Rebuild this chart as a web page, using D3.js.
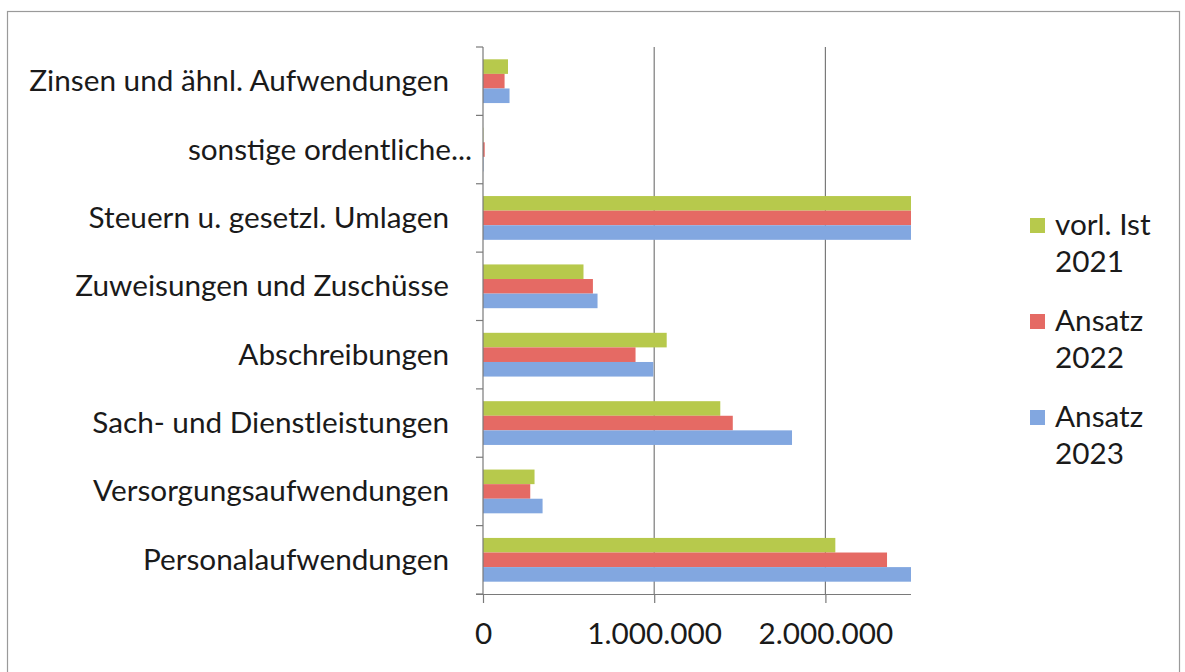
<!DOCTYPE html>
<html>
<head>
<meta charset="utf-8">
<script src="https://cdn.jsdelivr.net/npm/d3@7"></script>
<style>
  html, body { margin: 0; padding: 0; background: #ffffff; }
  svg { display: block; }
  text { font-family: Lato, "Open Sans", sans-serif; fill: #1a1a1a; }
</style>
</head>
<body>
<svg id="chart" width="1185" height="672"></svg>
<script>
const categories = [
  "Zinsen und ähnl. Aufwendungen",
  "sonstige ordentliche...",
  "Steuern u. gesetzl. Umlagen",
  "Zuweisungen und Zuschüsse",
  "Abschreibungen",
  "Sach- und Dienstleistungen",
  "Versorgungsaufwendungen",
  "Personalaufwendungen"
];
const seriesNames = ["vorl. Ist 2021", "Ansatz 2022", "Ansatz 2023"];
const legendLines = [["vorl. Ist", "2021"], ["Ansatz", "2022"], ["Ansatz", "2023"]];
const vorlIst2021 = [146000, 2000, 2500000, 587000, 1073000, 1386000, 301000, 2058000];
const ansatz2022  = [126000, 10000, 2500000, 642000, 891000, 1459000, 276000, 2360000];
const ansatz2023  = [155000, 3000, 2500000, 669000, 995000, 1805000, 348000, 2500000];
const xTicks = [0, 1000000, 2000000];
const xTickLabels = ["0", "1.000.000", "2.000.000"];
const colors = ["#b7c94c", "#e56a64", "#82a7e0"];

const svg = d3.select("#chart");
const plot = {left: 483, right: 911, top: 47, bottom: 594};

const values = [vorlIst2021, ansatz2022, ansatz2023];
const rows = categories.map((c, i) => ({cat: c, vals: values.map((v, s) => ({s, v: v[i]}))}));

const x = d3.scaleLinear().domain([0, 2500000]).range([plot.left, plot.right]);
const y0 = d3.scaleBand().domain(categories).range([plot.top, plot.bottom]).paddingInner(0.36).paddingOuter(0.18);
const y1 = d3.scaleBand().domain([0, 1, 2]).range([0, y0.bandwidth()]);

// outer border
svg.append("rect").attr("x", 7.5).attr("y", 11.5).attr("width", 1172).attr("height", 670)
  .attr("fill", "#fff").attr("stroke", "#9a9a9a").attr("stroke-width", 1.2);

// gridlines
svg.append("g").selectAll("line").data(xTicks.slice(1)).join("line")
  .attr("x1", d => x(d)).attr("x2", d => x(d))
  .attr("y1", plot.top).attr("y2", plot.bottom)
  .attr("stroke", "#7a7a7a").attr("stroke-width", 1.2);

// bars
const groups = svg.append("g").selectAll("g").data(rows).join("g")
  .attr("transform", d => `translate(0,${y0(d.cat)})`);
groups.selectAll("rect").data(d => d.vals).join("rect")
  .attr("x", x(0))
  .attr("y", d => y1(d.s))
  .attr("width", d => Math.max(0, x(Math.min(d.v, 2500000)) - x(0)))
  .attr("height", y1.bandwidth())
  .attr("fill", d => colors[d.s]);

// y axis line + ticks (at band boundaries)
const boundaries = d3.range(categories.length + 1).map(i => plot.top + i * (plot.bottom - plot.top) / categories.length);
svg.append("line").attr("x1", x(0)).attr("x2", x(0)).attr("y1", plot.top).attr("y2", plot.bottom)
  .attr("stroke", "#7a7a7a").attr("stroke-width", 1.2);
svg.append("g").selectAll("line").data(boundaries).join("line")
  .attr("x1", x(0) - 7).attr("x2", x(0)).attr("y1", d => d).attr("y2", d => d)
  .attr("stroke", "#7a7a7a").attr("stroke-width", 1.2);

// x axis
const xAxis = d3.axisBottom(x).tickValues(xTicks).tickFormat((d, i) => xTickLabels[i]).tickSize(9).tickPadding(20);
const gx = svg.append("g").attr("transform", `translate(0,${plot.bottom})`).call(xAxis);
gx.select(".domain").attr("stroke", "#7a7a7a").attr("stroke-width", 1.2)
  .attr("d", `M${x(0) - 7},0.5H${plot.right}`);
gx.selectAll(".tick line").attr("stroke", "#7a7a7a").attr("stroke-width", 1.2);
gx.selectAll(".tick text").attr("font-size", 27).attr("font-family", "Lato, sans-serif").attr("fill", "#1a1a1a");

// category labels (truncated label sits further right, as in the reference)
const labels = svg.append("g").selectAll("text").data(categories).join("text")
  .attr("x", d => d.endsWith("...") ? 472 : 449)
  .attr("y", d => y0(d) + y0.bandwidth() / 2 + 10)
  .attr("text-anchor", "end")
  .attr("font-size", 27)
  .text(d => d);

// fit font size to reference width of the longest label (~420px)
const len = labels.filter((d, i) => i === 0).node().getComputedTextLength();
const fs = Math.max(20, Math.min(32, 27 * 420 / len));
labels.attr("font-size", fs);
gx.selectAll(".tick text").attr("font-size", fs);

// legend
const legY = [235, 331, 427];
const leg = svg.append("g").selectAll("g").data(legendLines).join("g");
leg.append("rect").attr("x", 1030).attr("y", (d, i) => legY[i] - 17).attr("width", 15).attr("height", 15)
  .attr("fill", (d, i) => colors[i]);
leg.append("text").attr("x", 1055).attr("y", (d, i) => legY[i]).attr("font-size", fs).text(d => d[0]);
leg.append("text").attr("x", 1055).attr("y", (d, i) => legY[i] + 37).attr("font-size", fs).text(d => d[1]);
</script>
</body>
</html>
